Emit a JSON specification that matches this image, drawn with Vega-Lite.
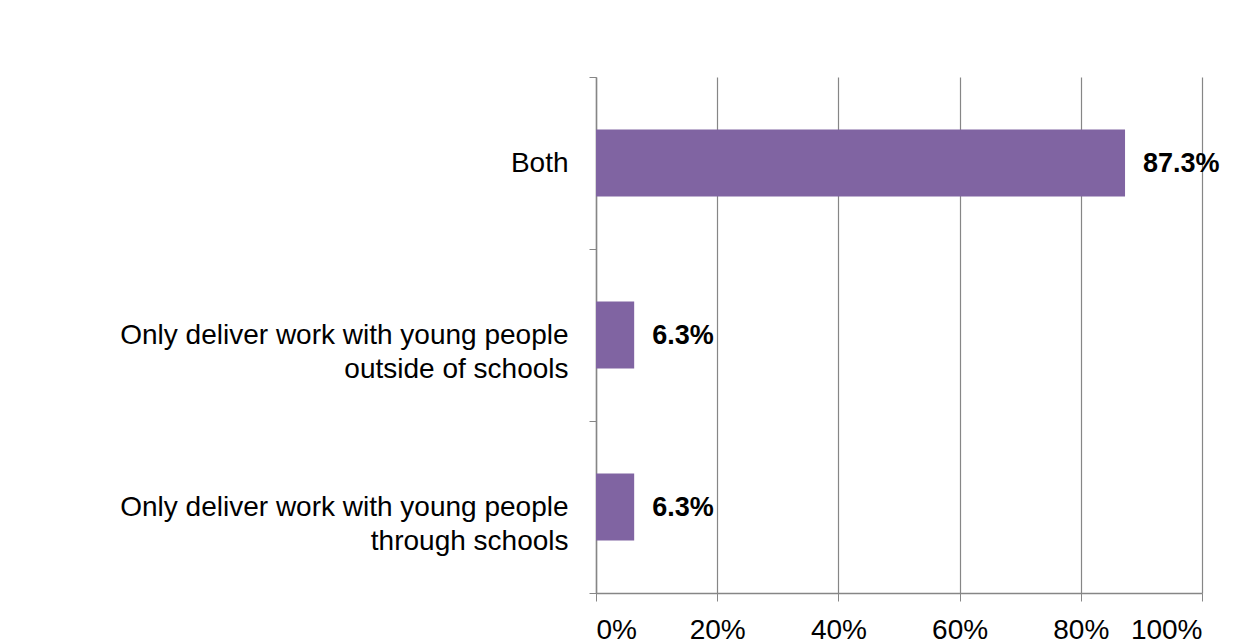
{
  "$schema": "https://vega.github.io/schema/vega-lite/v6.json",
  "width": 606,
  "height": 516,
  "autosize": "none",
  "padding": {"left": 596, "top": 77, "right": 54, "bottom": 50},
  "background": "white",
  "data": {
    "values": [
      {"category": "Both", "value": 0.873, "label": "87.3%"},
      {"category": "Only deliver work with young people|outside of schools", "value": 0.063, "label": "6.3%"},
      {"category": "Only deliver work with young people|through schools", "value": 0.063, "label": "6.3%"}
    ]
  },
  "encoding": {
    "y": {
      "field": "category",
      "type": "nominal",
      "sort": null,
      "title": null,
      "scale": {"paddingInner": 0, "paddingOuter": 0},
      "axis": {
        "labelExpr": "split(datum.label, '|')",
        "labelFont": "Liberation Sans",
        "labelFontSize": 28,
        "labelLineHeight": 34,
        "labelColor": "#000000",
        "labelLimit": 600,
        "labelPadding": 21,
        "tickBand": "extent",
        "tickSize": 7,
        "tickColor": "#868686",
        "domainColor": "#868686",
        "domainWidth": 1.5,
        "grid": false
      }
    },
    "x": {
      "field": "value",
      "type": "quantitative",
      "title": null,
      "scale": {"domain": [0, 1], "nice": false},
      "axis": {
        "values": [0, 0.2, 0.4, 0.6, 0.8, 1],
        "format": ".0%",
        "labelFont": "Liberation Sans",
        "labelFontSize": 28,
        "labelColor": "#000000",
        "labelPadding": 15,
        "tickSize": 8,
        "tickColor": "#868686",
        "domainColor": "#868686",
        "domainWidth": 1.5,
        "grid": true,
        "gridColor": "#868686",
        "gridWidth": 1.2
      }
    }
  },
  "layer": [
    {
      "mark": {"type": "bar", "color": "#8064A2", "height": {"band": 0.39}}
    },
    {
      "mark": {"type": "text", "align": "left", "dx": 18, "dy": 1, "font": "Liberation Sans", "fontSize": 27, "fontWeight": "bold", "color": "#000000"},
      "encoding": {"text": {"field": "label"}}
    }
  ],
  "config": {"view": {"stroke": null}}
}
